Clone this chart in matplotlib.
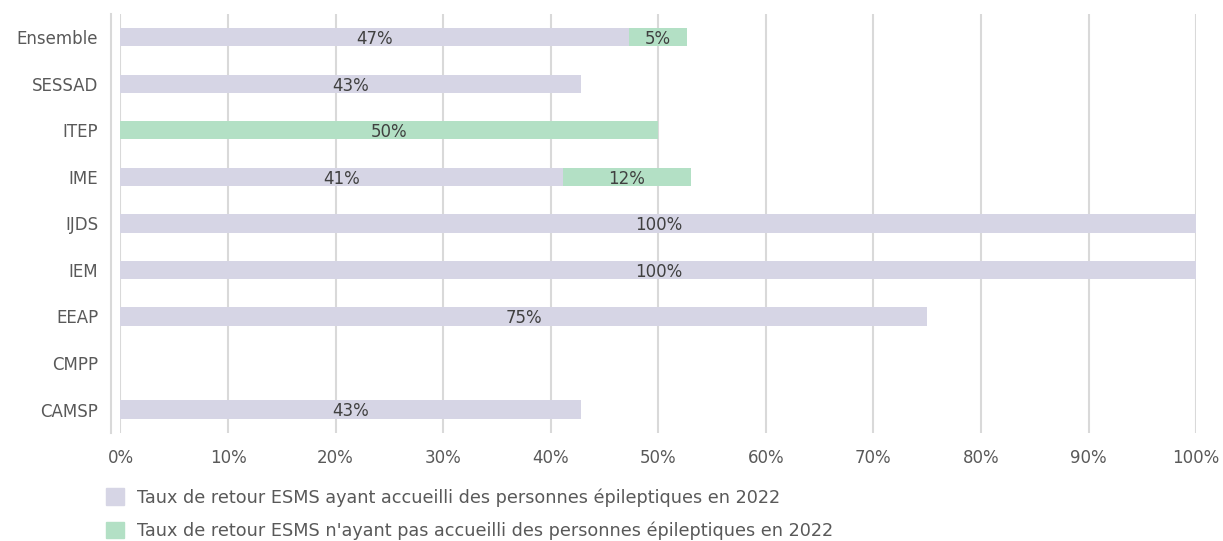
import matplotlib.pyplot as plt
from matplotlib.patches import Patch

# données (lecture du graphique)
categories = ["Ensemble", "SESSAD", "ITEP", "IME", "IJDS", "IEM", "EEAP", "CMPP", "CAMSP"]
avec_epi = [47.3, 42.8, 0, 41.1, 100, 100, 75, 0, 42.8]
sans_epi = [5.4, 0, 50, 11.9, 0, 0, 0, 0, 0]
labels_avec = ["47%", "43%", "", "41%", "100%", "100%", "75%", "", "43%"]
labels_sans = ["5%", "", "50%", "12%", "", "", "", "", ""]
xticks = [0, 10, 20, 30, 40, 50, 60, 70, 80, 90, 100]

legend_labels = [
    "Taux de retour ESMS ayant accueilli des personnes épileptiques en 2022",
    "Taux de retour ESMS n'ayant pas accueilli des personnes épileptiques en 2022",
]

c_gris = "#D6D5E5"
c_vert = "#B3E0C5"
c_txt = "#404040"
c_axe = "#595959"

plt.rcParams["font.family"] = ["DejaVu Sans"]

fig = plt.figure(figsize=(12.23, 5.41), dpi=100)
ax = fig.add_axes([0.0985, 0.2, 0.8795, 0.774])

y = list(range(len(categories)))[::-1]
b1 = ax.barh(y, avec_epi, height=0.39, color=c_gris, zorder=2)
b2 = ax.barh(y, sans_epi, left=avec_epi, height=0.39, color=c_vert, zorder=2)

for bars, labs in ((b1, labels_avec), (b2, labels_sans)):
    for b, lab in zip(bars, labs):
        if lab:
            ax.text(b.get_x() + b.get_width() / 2, b.get_y() + b.get_height() / 2 - 0.04, lab,
                    ha="center", va="center", fontsize=12, color=c_txt, zorder=3)

ax.set_xlim(0, 100)
ax.set_ylim(-0.5, len(categories) - 0.5)
ax.set_yticks(y)
ax.set_yticklabels(categories)
ax.set_xticks(xticks)
ax.set_xticklabels([f"{t}%" for t in xticks])
ax.tick_params(length=0, pad=12, labelcolor=c_axe, labelsize=12)
ax.tick_params(axis="y", pad=9)
ax.grid(axis="x", color="#D9D9D9", linewidth=1.5, zorder=0)
for s in ["top", "right", "bottom"]:
    ax.spines[s].set_visible(False)
ax.spines["left"].set_position(("outward", 7))
ax.spines["left"].set_color("#D9D9D9")
ax.spines["left"].set_linewidth(1.5)

handles = [Patch(color=c_gris), Patch(color=c_vert)]
fig.legend(handles, legend_labels, loc="upper left", bbox_to_anchor=(0.081, 0.111),
           frameon=False, fontsize=12.7, labelcolor=c_axe, handlelength=1.0,
           handleheight=1.1, handletextpad=0.75, labelspacing=0.85, borderaxespad=0)

fig.savefig("out.png", dpi=100)
